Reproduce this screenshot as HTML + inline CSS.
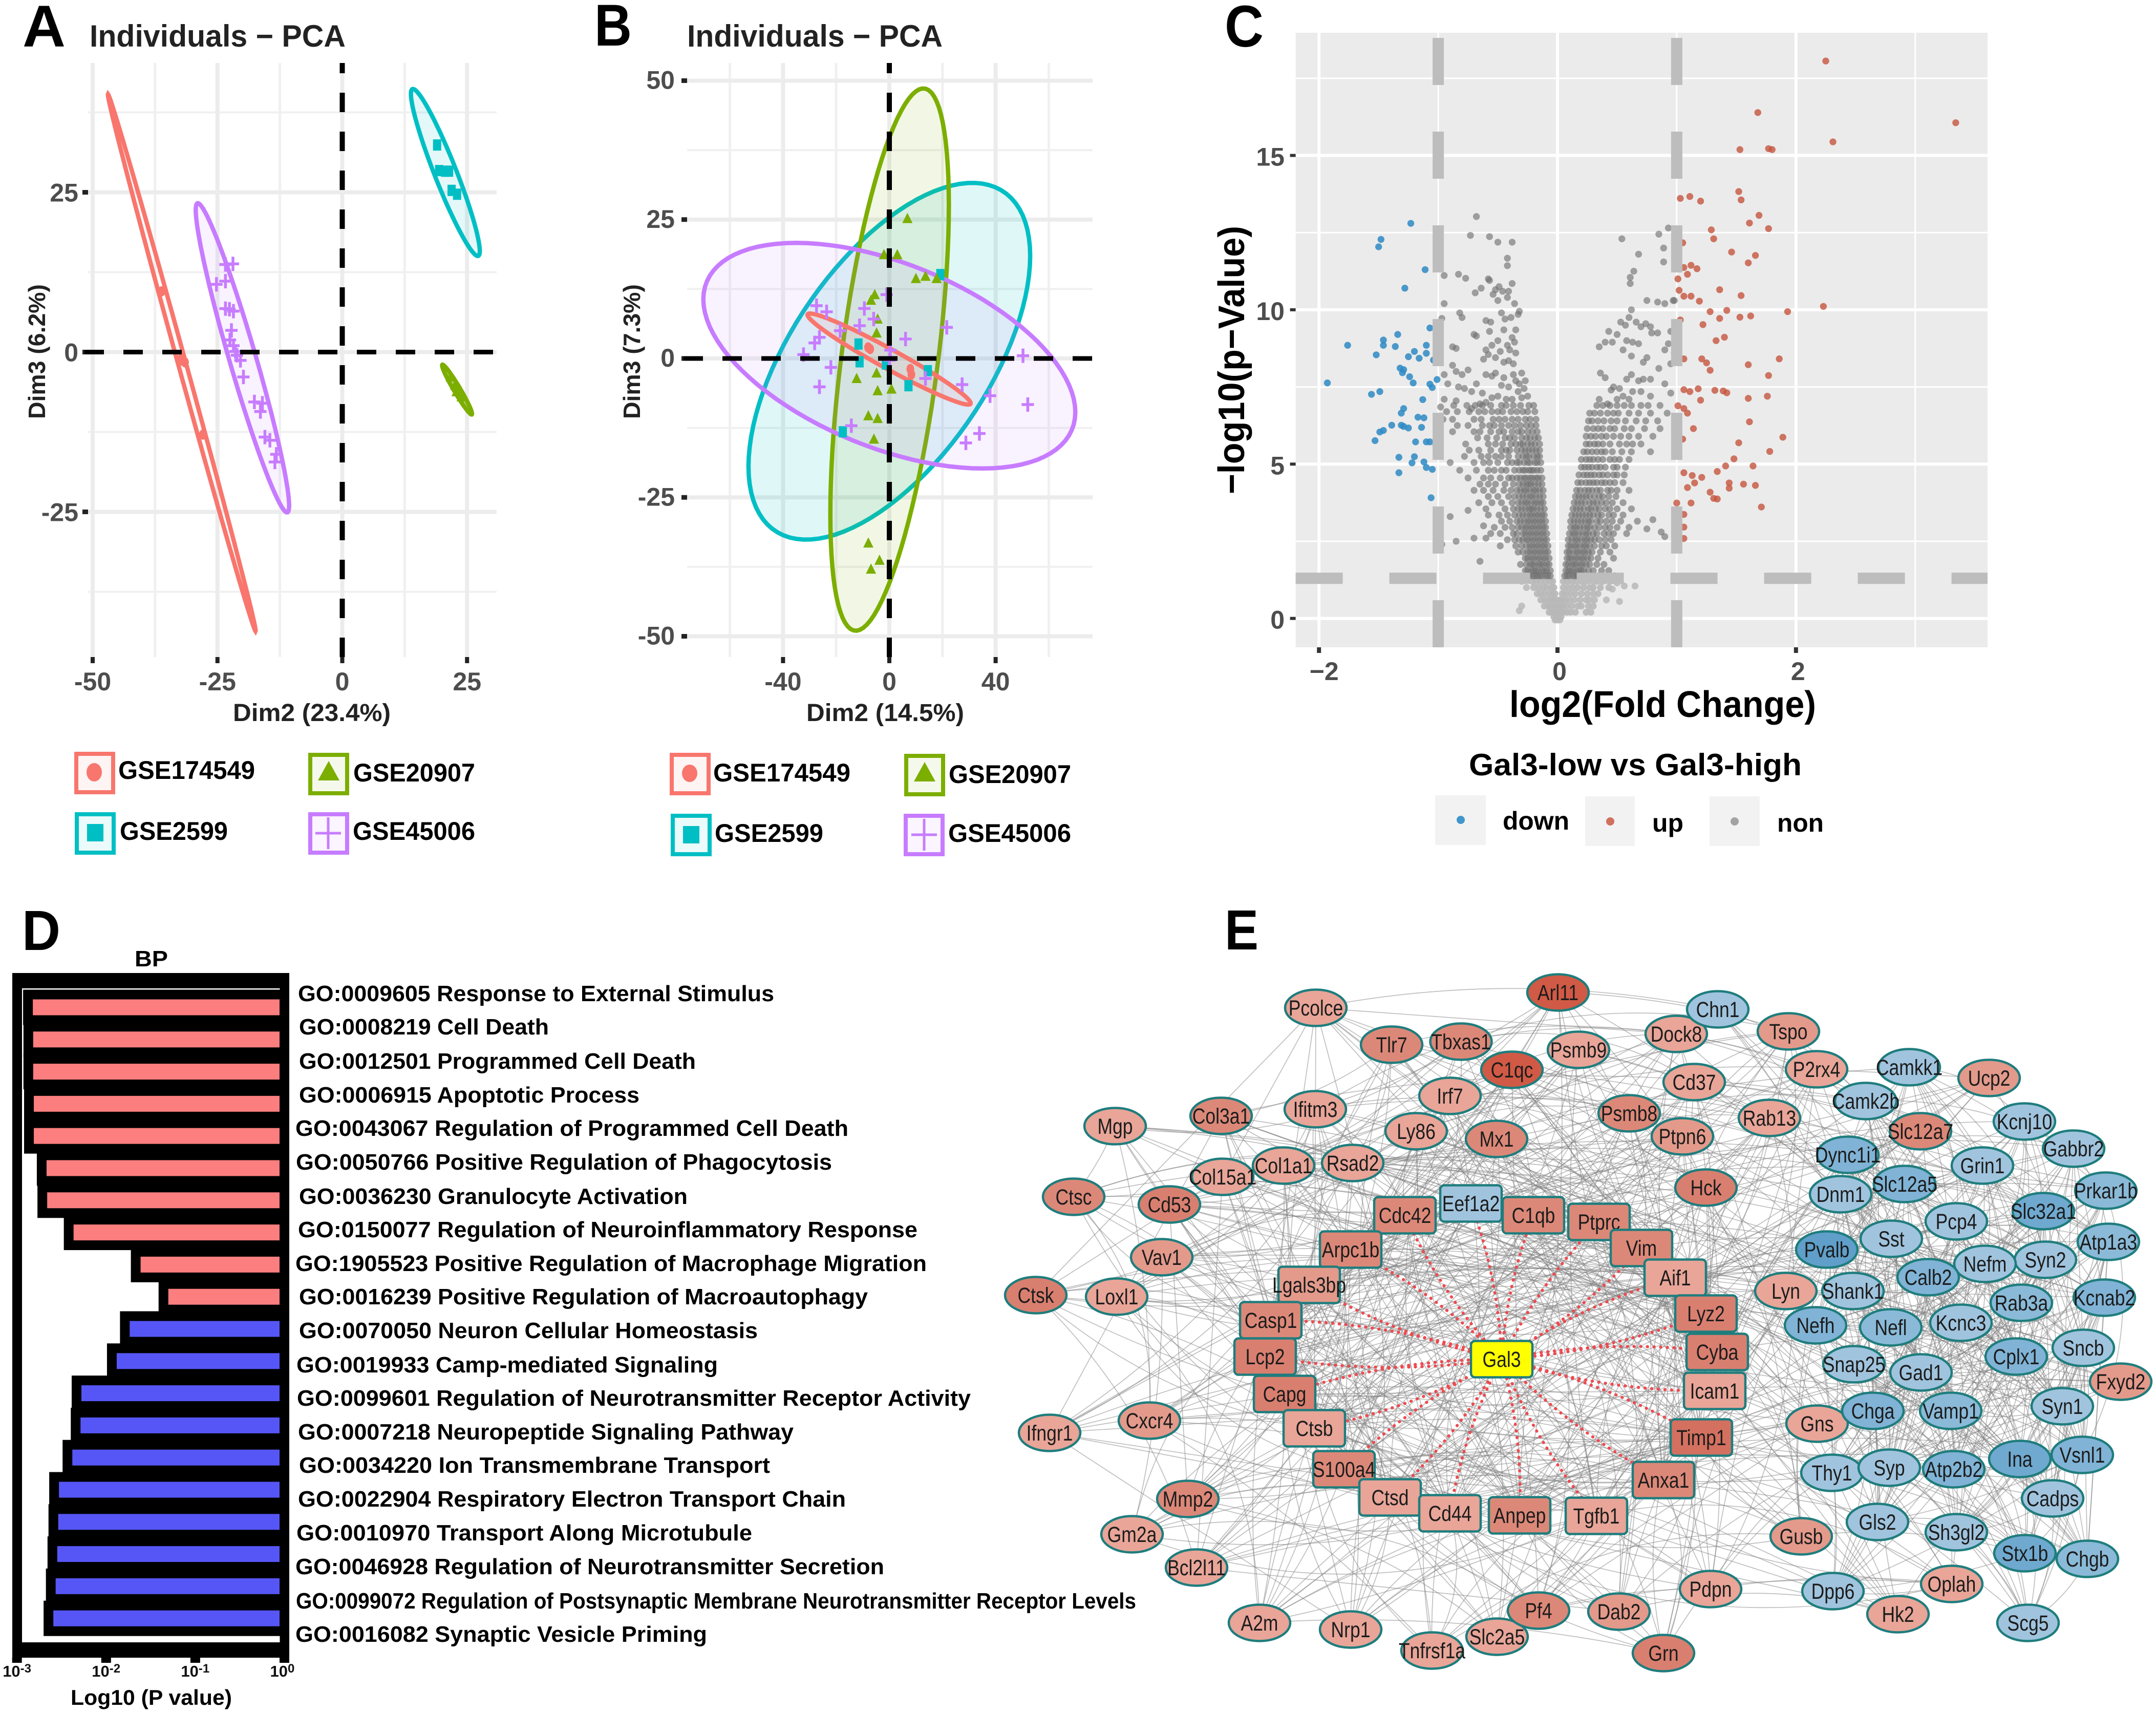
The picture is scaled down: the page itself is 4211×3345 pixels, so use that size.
<!DOCTYPE html>
<html><head><meta charset="utf-8"><title>Figure panels</title>
<style>
html,body{margin:0;padding:0;background:#fff}
svg{display:block;position:absolute;left:0;top:0}
text{font-family:"Liberation Sans",sans-serif}
.b{font-weight:700}
.tl{font-weight:700;fill:#4d4d4d;font-size:50px}
.go{font-weight:700;font-size:44px;fill:#000}
</style></head>
<body>
<svg id="figure" xmlns="http://www.w3.org/2000/svg" width="4211" height="3345" viewBox="0 0 4211 3345">
<rect width="4211" height="3345" fill="#fff"/>
<g id="panelA"></g>
<g id="panelB"></g>
<g id="panelC"></g>
<g id="panelD"></g>
<g id="panelE"></g>

<!-- Panel letters -->
<text class="b" x="44" y="91" font-size="115" textLength="84" lengthAdjust="spacingAndGlyphs">A</text>
<text class="b" x="1161" y="89" font-size="115" textLength="73" lengthAdjust="spacingAndGlyphs">B</text>
<text class="b" x="2392" y="91" font-size="115" textLength="76" lengthAdjust="spacingAndGlyphs">C</text>
<text class="b" x="43" y="1855" font-size="110" textLength="75" lengthAdjust="spacingAndGlyphs">D</text>
<text class="b" x="2392" y="1854" font-size="110" textLength="66" lengthAdjust="spacingAndGlyphs">E</text>

<!-- Panel A text -->
<g fill="#222" class="b">
<text x="175" y="91" font-size="60" textLength="500" lengthAdjust="spacingAndGlyphs">Individuals − PCA</text>
<text x="455" y="1408" font-size="48" textLength="308" lengthAdjust="spacingAndGlyphs">Dim2 (23.4%)</text>
<text transform="translate(88,818) rotate(-90)" font-size="46" textLength="263" lengthAdjust="spacingAndGlyphs">Dim3 (6.2%)</text>
<text x="1342" y="91" font-size="60" textLength="499" lengthAdjust="spacingAndGlyphs">Individuals − PCA</text>
<text x="1575" y="1408" font-size="48" textLength="308" lengthAdjust="spacingAndGlyphs">Dim2 (14.5%)</text>
<text transform="translate(1250,818) rotate(-90)" font-size="46" textLength="263" lengthAdjust="spacingAndGlyphs">Dim3 (7.3%)</text>
</g>

<!-- Legend A -->
<g>
<rect x="149" y="1472" width="72" height="75" fill="#f8766d" fill-opacity=".08" stroke="#f8766d" stroke-width="8"/>
<ellipse cx="184" cy="1508" rx="15" ry="18" fill="#f8766d"/>
<text class="b" x="231" y="1521" font-size="50" textLength="267" lengthAdjust="spacingAndGlyphs">GSE174549</text>
<rect x="606" y="1474" width="72" height="75" fill="#7cae00" fill-opacity=".08" stroke="#7cae00" stroke-width="8"/>
<polygon points="621,1524 663,1524 642,1486" fill="#7cae00"/>
<text class="b" x="690" y="1526" font-size="50" textLength="238" lengthAdjust="spacingAndGlyphs">GSE20907</text>
<rect x="150" y="1590" width="72" height="75" fill="#00bfc4" fill-opacity=".08" stroke="#00bfc4" stroke-width="8"/>
<rect x="170" y="1609" width="32" height="34" fill="#00bfc4"/>
<text class="b" x="234" y="1640" font-size="50" textLength="211" lengthAdjust="spacingAndGlyphs">GSE2599</text>
<rect x="606" y="1590" width="72" height="75" fill="#c77cff" fill-opacity=".08" stroke="#c77cff" stroke-width="8"/>
<path d="M616 1627H666M641 1596V1658" stroke="#c77cff" stroke-width="5" fill="none"/>
<text class="b" x="689" y="1640" font-size="50" textLength="239" lengthAdjust="spacingAndGlyphs">GSE45006</text>
</g>

<!-- Legend B -->
<g>
<rect x="1312" y="1474" width="72" height="75" fill="#f8766d" fill-opacity=".08" stroke="#f8766d" stroke-width="8"/>
<ellipse cx="1347" cy="1510" rx="15" ry="17" fill="#f8766d"/>
<text class="b" x="1393" y="1526" font-size="50" textLength="268" lengthAdjust="spacingAndGlyphs">GSE174549</text>
<rect x="1770" y="1476" width="72" height="75" fill="#7cae00" fill-opacity=".08" stroke="#7cae00" stroke-width="8"/>
<polygon points="1785,1526 1827,1526 1806,1488" fill="#7cae00"/>
<text class="b" x="1853" y="1529" font-size="50" textLength="239" lengthAdjust="spacingAndGlyphs">GSE20907</text>
<rect x="1314" y="1593" width="72" height="75" fill="#00bfc4" fill-opacity=".08" stroke="#00bfc4" stroke-width="8"/>
<rect x="1334" y="1613" width="32" height="34" fill="#00bfc4"/>
<text class="b" x="1396" y="1644" font-size="50" textLength="212" lengthAdjust="spacingAndGlyphs">GSE2599</text>
<rect x="1769" y="1593" width="72" height="75" fill="#c77cff" fill-opacity=".08" stroke="#c77cff" stroke-width="8"/>
<path d="M1780 1630H1830M1805 1599V1661" stroke="#c77cff" stroke-width="5" fill="none"/>
<text class="b" x="1852" y="1644" font-size="50" textLength="240" lengthAdjust="spacingAndGlyphs">GSE45006</text>
</g>

<!-- Panel C text and legend -->
<text class="b" x="2948" y="1400" font-size="72" textLength="599" lengthAdjust="spacingAndGlyphs">log2(Fold Change)</text>
<text class="b" transform="translate(2430,965) rotate(-90)" font-size="72" textLength="524" lengthAdjust="spacingAndGlyphs">−log10(p−Value)</text>
<text class="b" x="2869" y="1514" font-size="60" textLength="650" lengthAdjust="spacingAndGlyphs">Gal3-low vs Gal3-high</text>
<g>
<rect x="2803" y="1553" width="99" height="97" fill="#f2f2f2"/>
<circle cx="2853" cy="1601" r="8" fill="#3f97cb"/>
<text class="b" x="2935" y="1620" font-size="50" textLength="130" lengthAdjust="spacingAndGlyphs">down</text>
<rect x="3096" y="1555" width="97" height="97" fill="#f2f2f2"/>
<circle cx="3145" cy="1604" r="8" fill="#d0705e"/>
<text class="b" x="3227" y="1624" font-size="50" textLength="61" lengthAdjust="spacingAndGlyphs">up</text>
<rect x="3339" y="1555" width="98" height="97" fill="#f2f2f2"/>
<circle cx="3388" cy="1604" r="8" fill="#a3a3a3"/>
<text class="b" x="3471" y="1624" font-size="50" textLength="91" lengthAdjust="spacingAndGlyphs">non</text>
</g>

<!-- Panel D labels -->
<g>
<text class="go" x="582" y="1955" textLength="930" lengthAdjust="spacingAndGlyphs">GO:0009605 Response to External Stimulus</text>
<text class="go" x="584" y="2020" textLength="488" lengthAdjust="spacingAndGlyphs">GO:0008219 Cell Death</text>
<text class="go" x="584" y="2087" textLength="775" lengthAdjust="spacingAndGlyphs">GO:0012501 Programmed Cell Death</text>
<text class="go" x="584" y="2153" textLength="665" lengthAdjust="spacingAndGlyphs">GO:0006915 Apoptotic Process</text>
<text class="go" x="577" y="2218" textLength="1080" lengthAdjust="spacingAndGlyphs">GO:0043067 Regulation of Programmed Cell Death</text>
<text class="go" x="578" y="2284" textLength="1047" lengthAdjust="spacingAndGlyphs">GO:0050766 Positive Regulation of Phagocytosis</text>
<text class="go" x="584" y="2351" textLength="759" lengthAdjust="spacingAndGlyphs">GO:0036230 Granulocyte Activation</text>
<text class="go" x="582" y="2416" textLength="1210" lengthAdjust="spacingAndGlyphs">GO:0150077 Regulation of Neuroinflammatory Response</text>
<text class="go" x="577" y="2482" textLength="1233" lengthAdjust="spacingAndGlyphs">GO:1905523 Positive Regulation of Macrophage Migration</text>
<text class="go" x="584" y="2547" textLength="1111" lengthAdjust="spacingAndGlyphs">GO:0016239 Positive Regulation of Macroautophagy</text>
<text class="go" x="584" y="2613" textLength="896" lengthAdjust="spacingAndGlyphs">GO:0070050 Neuron Cellular Homeostasis</text>
<text class="go" x="579" y="2680" textLength="823" lengthAdjust="spacingAndGlyphs">GO:0019933 Camp-mediated Signaling</text>
<text class="go" x="580" y="2745" textLength="1316" lengthAdjust="spacingAndGlyphs">GO:0099601 Regulation of Neurotransmitter Receptor Activity</text>
<text class="go" x="582" y="2811" textLength="968" lengthAdjust="spacingAndGlyphs">GO:0007218 Neuropeptide Signaling Pathway</text>
<text class="go" x="584" y="2876" textLength="920" lengthAdjust="spacingAndGlyphs">GO:0034220 Ion Transmembrane Transport</text>
<text class="go" x="582" y="2942" textLength="1070" lengthAdjust="spacingAndGlyphs">GO:0022904 Respiratory Electron Transport Chain</text>
<text class="go" x="579" y="3008" textLength="890" lengthAdjust="spacingAndGlyphs">GO:0010970 Transport Along Microtubule</text>
<text class="go" x="577" y="3074" textLength="1150" lengthAdjust="spacingAndGlyphs">GO:0046928 Regulation of Neurotransmitter Secretion</text>
<text class="go" x="578" y="3141" textLength="1641" lengthAdjust="spacingAndGlyphs">GO:0099072 Regulation of Postsynaptic Membrane Neurotransmitter Receptor Levels</text>
<text class="go" x="577" y="3206" textLength="804" lengthAdjust="spacingAndGlyphs">GO:0016082 Synaptic Vesicle Priming</text>
</g>
<text class="b" x="263" y="1887" font-size="44" textLength="65" lengthAdjust="spacingAndGlyphs">BP</text>
<text class="b" x="138" y="3329" font-size="42" textLength="315" lengthAdjust="spacingAndGlyphs">Log10 (P value)</text>

<script>
<![CDATA[
// ---------- Panel A data (data units) ----------
const aXMajor=[-50,-25,0,25];
const aXMinor=[-37.5,-12.5,12.5];
const aYMajor=[25,0,-25];
const aYMinor=[37.5,12.5,-12.5,-37.5];
const aXLabels=["-50","-25","0","25"];
const aYLabels=["25","0","-25"];
// ellipse: centre x, centre y, sd x, sd y, correlation
const aEllipseGse174549=[-32.15,-1.66,14.8,42,-0.9985];
const aEllipseGse45006=[-20,-0.9,9.35,24.2,-0.955];
const aEllipseGse2599=[20.65,28.1,6.9,13.07,-0.94];
const aEllipseGse20907=[23,-5.87,3.0,3.9,-0.97];
const aPointsGse174549=[[-36.2,9.5],[-31.9,-1.4],[-27.9,-12.9],[-32.3,-1],[-31.5,-1.6]];
const aPointsGse45006=[[-23.4,13.7],[-21.9,13.8],[-25.2,10.6],[-23.4,11.1],[-23.4,6.8],[-21.8,6.4],[-22.6,6.7],[-22.2,3.4],[-22.5,1.9],[-21.8,1],[-21.4,0.1],[-21.1,-0.5],[-20.4,-1.3],[-19.8,-3.9],[-17.6,-7.8],[-16,-8],[-16.4,-9.3],[-15.5,-13.3],[-14.5,-13.8],[-13.2,-16],[-13.5,-17.2]];
const aPointsGse2599=[[19,32.4],[19.4,28.4],[20.6,28.3],[21.4,28.3],[21.9,25.3],[23,24.7]];
const aPointsGse20907=[[21.7,-3.9],[22.6,-5.2],[23.9,-7],[22.9,-6.2]];

// ---------- Panel B data ----------
const bXMajor=[-40,0,40];
const bXMinor=[-60,-20,20,60];
const bYMajor=[50,25,0,-25,-50];
const bYMinor=[37.5,12.5,-12.5,-37.5];
const bXLabels=["-40","0","40"];
const bYLabels=["50","25","0","-25","-50"];
const bEllipseGse2599=[0,-0.5,53,32.1,0.59];
const bEllipseGse20907=[0.1,-0.2,22.3,48.8,0.57];
const bEllipseGse45006=[0,0.5,70,20.3,-0.5];
const bEllipseGse174549=[-0.1,-0.1,30.7,8.2,-0.97];
const bPointsGse45006=[[-27.4,9.5],[-23.6,8.4],[-18.5,5],[-11.2,5.9],[-9.4,9],[-5.9,7.1],[-1,11.5],[6.1,3.5],[21.6,5.6],[50.3,0.5],[52.1,-8.3],[37.9,-6.7],[33.9,-13.5],[28.8,-15.2],[27.4,-4.7],[13.6,-3.6],[-14.3,-12.1],[-26.3,-5.1],[-22,-1.6],[-32.3,0.7],[-28.1,2.8],[-26.3,3.8],[0.4,1.5],[0.1,-0.3]];
const bPointsGse20907=[[6.8,25.2],[3,18.7],[-2,18.7],[10,14.4],[13.6,14.8],[17.8,14.4],[-5.5,11.5],[-6.9,10.5],[-4.4,7.1],[-4.8,4.6],[-12.3,-3.6],[-4.8,-2.6],[-4.4,-5.8],[0.8,-5.5],[-7.9,-10.3],[-4.4,-10.8],[-5.8,-14.5],[-7.9,-33.2],[-3.7,-36.3],[-6.9,-37.9]];
const bPointsGse2599=[[-11.6,2.6],[-11.2,-0.6],[-1.3,-1],[7.2,-4.9],[14.5,-2.2],[19.2,15.1],[-17.5,-13.2]];
const bPointsGse174549=[[-8,2],[-7.2,1.7],[7.9,-1.9],[8.3,-2.9]];

// ---------- Panel C data ----------
const cXMajor=[-2,0,2];
const cXMinor=[-1,1,3];
const cYMajor=[0,5,10,15];
const cYMinor=[2.5,7.5,12.5,17.5];
const cXLabels=["−2","0","2"];
const cYLabels=["0","5","10","15"];
const fcThresholds=[-1,1];
const pThreshold=[1.3];
const upPoints=[[2.25,18.06],[3.34,16.06],[1.68,16.39],[2.31,15.44],[1.53,15.19],[1.77,15.22],[1.8,15.19],[1.52,13.83],[1.54,13.56],[1.03,13.61],[1.11,13.67],[1.2,13.52],[1.69,13.06],[1.61,12.81],[1.77,12.63],[1.29,12.59],[1.31,12.3],[1.05,12.17],[1.46,11.87],[1.66,11.76],[1.6,11.52],[1.06,11.37],[1.12,11.44],[1.17,11.33],[1.09,11.15],[1.01,11],[1.36,10.65],[1.54,10.46],[1.02,10.63],[1.06,10.44],[1.12,10.44],[1.19,10.28],[2.23,10.11],[1.93,9.94],[1.28,9.94],[1.42,9.98],[1.36,9.72],[1.53,9.76],[1.62,9.8],[1.03,9.67],[1.22,9.52],[1.4,9.11],[1.33,9],[1.86,8.41],[1.6,8.22],[1.77,7.87],[1.06,8.41],[1.21,8.41],[1.25,8.28],[1.28,8.04],[1.06,7.41],[1.11,7.35],[1.18,7.44],[1.32,7.39],[1.39,7.37],[1.42,7.31],[1.6,7.13],[1.76,7.2],[1.2,7.07],[1.01,6.89],[1.06,6.8],[1.09,6.65],[1.61,6.37],[1.14,6.15],[1.89,5.87],[1.05,5.81],[1.52,5.69],[1.78,5.41],[1.48,5.17],[1.41,4.94],[1.64,4.94],[1.34,4.76],[1.06,4.72],[1.13,4.63],[1.21,4.57],[1.15,4.39],[1.09,4.24],[1.44,4.39],[1.44,4.22],[1.56,4.35],[1.66,4.31],[1.28,4.09],[1.31,3.89],[1.34,3.87],[1.12,3.74],[1,3.74],[1.71,3.61],[1.06,3.37],[1.06,2.96],[1.06,2.59]];
const downPoints=[[-1.23,12.8],[-1.48,12.28],[-1.5,12.04],[-1.11,11.3],[-1.28,10.7],[-1.07,9.41],[-1.34,9.2],[-1.46,9.02],[-1.46,8.85],[-1.76,8.85],[-1.36,8.81],[-1.1,8.85],[-1.52,8.54],[-1.2,8.65],[-1.1,8.59],[-1.25,8.48],[-1.16,8.43],[-1.04,8.37],[-1.32,8.11],[-1.29,8.06],[-1.3,7.96],[-1.24,7.83],[-1.21,7.63],[-1.93,7.63],[-1.01,7.74],[-1.07,7.59],[-1.05,7.48],[-1.56,7.26],[-1.49,7.35],[-1.13,7.09],[-1.29,6.8],[-1.31,6.65],[-1.17,6.52],[-1.12,6.5],[-1.31,6.26],[-1.29,6.22],[-1.25,6.17],[-1.39,6.26],[-1.46,6.09],[-1.49,6.04],[-1.14,6.19],[-1.53,5.76],[-1.19,5.72],[-1.1,5.72],[-1.07,5.72],[-1.33,5.22],[-1.2,5.24],[-1.22,5.04],[-1.12,5.07],[-1.1,4.89],[-1.05,4.83],[-1.33,4.72],[-1.06,3.91],[-1.02,5.6]];
const nonLeftUpper=[[-.68,13.02],[-.73,12.41],[-.57,12.37],[-.5,12.19],[-.38,12.19],[-.42,11.67],[-.42,11.43],[-.95,11.11],[-.83,11.15],[-.77,11.02],[-.58,11],[-.57,10.95],[-.64,10.7],[-.52,10.65],[-.38,10.85],[-.42,10.4],[-.69,10.55],[-.54,10.5],[-.36,10.2],[-.32,9.95],[-.33,9.85],[-.95,10.2],[-.97,9.72],[-.82,9.9],[-.8,9.75],[-.6,9.65],[-.56,9.6],[-.45,9.35],[-.38,9.1],[-.7,9.2],[-.68,9.15],[-.57,9.3],[-.88,8.8],[-.85,8.75],[-.6,8.7],[-.55,8.85],[-.5,9],[-.42,8.85],[-.4,8.7],[-.36,8.95],[-.35,8.6],[-.62,8.4],[-.58,8.55],[-.52,8.45],[-.49,10.75],[-.46,10.6],[-.41,10.6],[-.5,10.3],[-.47,9.9],[-.44,9.7],[-.39,9.75],[-.35,9.35],[-.48,8.65],[-.45,8.3],[-.41,8.35],[-.37,8.25]];
const nonLeftMiddle=[[-.95,7.9],[-.88,8.2],[-.85,8],[-.8,7.9],[-.75,8.05],[-.92,7.6],[-.83,7.5],[-.78,7.45],[-.72,7.35],[-.68,7.6],[-.6,7.9],[-.55,7.85],[-.52,7.95],[-.45,7.8],[-.35,7.7],[-.32,7.6],[-.28,7.45],[-.33,7.35],[-.25,7.2],[-.38,7.1],[-.5,7.2],[-.55,7.15],[-.6,7],[-.65,6.95],[-.72,6.8],[-.85,7.05],[-.95,7.1],[-.98,6.85],[-.41,7.5],[-.37,7.9],[-.3,7.95],[-.27,7.7],[-.47,7.55],[-.63,7.3],[-.43,7.1],[-.3,7.15],[-.9,3.3],[-.75,3.5],[-.85,2.5],[-.62,3],[-.7,2.6],[-.6,2.6],[-.65,1.85],[-.97,2.4]];
// rows: first value is -log10(p), the rest are log2FC
const nonLeftCoreRows=[[6.9,-.2,-.24,-.31,-.37,-.43,-.47,-.56,-.63,-.69,-.76,-.87],[6.7,-.19,-.25,-.29,-.34,-.39,-.46,-.5,-.55,-.61,-.66,-.74,-.84,-.93],[6.45,-.18,-.23,-.27,-.33,-.38,-.44,-.49,-.54,-.64,-.7,-.88,-.96],[6.25,-.18,-.22,-.26,-.31,-.36,-.41,-.47,-.53,-.57,-.63,-.75,-.84],[6.05,-.17,-.21,-.25,-.3,-.33,-.38,-.45,-.49,-.56,-.65,-.7,-.88],[5.85,-.16,-.19,-.23,-.26,-.3,-.36,-.4,-.44,-.51,-.59,-.67],[5.65,-.15,-.19,-.22,-.25,-.29,-.31,-.35,-.39,-.46,-.52,-.58,-.77],[5.45,-.15,-.18,-.21,-.24,-.27,-.3,-.34,-.4,-.43,-.47,-.56,-.66,-.74],[5.25,-.15,-.17,-.2,-.24,-.26,-.29,-.33,-.41,-.47,-.52,-.58,-.64,-.78],[5.05,-.14,-.17,-.19,-.23,-.25,-.28,-.32,-.34,-.38,-.42,-.5,-.57,-.62,-.7,-.9],[4.8,-.14,-.17,-.2,-.22,-.24,-.27,-.29,-.32,-.36,-.43,-.47,-.53,-.58,-.68,-.82],[4.55,-.13,-.16,-.18,-.21,-.23,-.26,-.28,-.31,-.34,-.38,-.41,-.48,-.56,-.62,-.75],[4.35,-.13,-.16,-.19,-.22,-.24,-.26,-.29,-.32,-.37,-.44,-.52,-.58,-.65],[4.15,-.12,-.15,-.18,-.2,-.23,-.26,-.28,-.31,-.34,-.39,-.45,-.54,-.62,-.7],[3.95,-.12,-.15,-.18,-.21,-.23,-.26,-.29,-.32,-.36,-.41,-.5,-.58],[3.75,-.12,-.14,-.17,-.19,-.22,-.25,-.27,-.3,-.33,-.38,-.47,-.55,-.66],[3.55,-.11,-.14,-.17,-.2,-.22,-.24,-.27,-.3,-.33,-.37,-.44,-.6],[3.35,-.11,-.13,-.16,-.18,-.21,-.23,-.26,-.29,-.32,-.36,-.42,-.49,-.58],[3.15,-.1,-.13,-.15,-.18,-.2,-.23,-.25,-.28,-.31,-.34,-.4,-.47],[2.95,-.1,-.12,-.15,-.17,-.2,-.22,-.25,-.27,-.3,-.33,-.38,-.44,-.53],[2.75,-.09,-.12,-.14,-.17,-.19,-.22,-.24,-.27,-.29,-.34,-.37,-.48,-.56],[2.55,-.09,-.11,-.14,-.16,-.19,-.21,-.24,-.26,-.29,-.32,-.36,-.42],[2.35,-.08,-.11,-.13,-.16,-.18,-.21,-.23,-.26,-.3,-.35,-.48],[2.15,-.08,-.1,-.13,-.15,-.18,-.2,-.23,-.25,-.29,-.33],[1.95,-.07,-.1,-.12,-.15,-.17,-.2,-.22,-.25,-.27],[1.75,-.07,-.09,-.12,-.14,-.16,-.19,-.21,-.23,-.26,-.31],[1.55,-.06,-.09,-.11,-.13,-.16,-.18,-.2,-.22,-.25,-.27],[1.38,-.06,-.08,-.1,-.13,-.15,-.17,-.19,-.21,-.24]];
const nonRightUpper=[[.54,12.3],[.68,11.8],[.64,11.25],[.61,11.05],[.61,10.85],[.85,12.45],[.89,12],[.93,12.65],[.89,11.55],[.75,10.3],[.84,10.25],[.9,10.2],[.98,10.3],[.97,10.3],[.62,10],[.6,9.75],[.53,9.6],[.57,9.5],[.66,9.6],[.7,9.45],[.74,9.55],[.78,9.45],[.43,9.3],[.5,9.2],[.46,8.95],[.58,9],[.63,8.95],[.68,8.9],[.79,9.25],[.84,9.25],[.95,9.3],[.93,8.9],[.98,8.6],[.9,8.7],[.35,8.8],[.4,8.95],[.55,8.7],[.62,8.5],[.72,8.3],[.75,8.45],[.85,8.1],[.95,8.25]];
const nonRightMiddle=[[.36,7.95],[.4,7.8],[.47,7.5],[.52,7.45],[.45,7.4],[.58,7.75],[.62,7.9],[.68,7.7],[.72,7.75],[.78,7.75],[.9,7.6],[.35,7.1],[.42,6.95],[.5,7.1],[.55,7.2],[.6,7.1],[.63,7.35],[.7,7.35],[.78,7.2],[.95,7.3],[.8,3.2],[.87,2.8],[.9,2.65],[.75,2.9]];
const nonRightCoreRows=[[6.9,.33,.38,.44,.5,.56,.62,.7,.76,.86],[6.65,.27,.31,.36,.42,.47,.51,.6,.68,.78,.92],[6.4,.26,.29,.34,.39,.45,.5,.57,.66,.74,.84],[6.15,.25,.3,.34,.38,.44,.48,.56,.62,.73,.86],[5.9,.24,.28,.32,.37,.41,.47,.53,.6,.68,.8],[5.65,.24,.27,.31,.34,.38,.44,.52,.58,.63,.7],[5.4,.22,.25,.29,.33,.37,.4,.46,.54,.62,.78],[5.15,.2,.24,.27,.3,.34,.38,.44,.48,.52,.6],[4.9,.2,.23,.26,.29,.33,.36,.4,.47,.5,.57],[4.65,.18,.22,.25,.28,.31,.35,.38,.42,.47,.5,.56],[4.4,.17,.2,.24,.27,.3,.33,.37,.4,.44,.48,.55],[4.15,.16,.19,.23,.26,.29,.33,.36,.42,.45,.5,.6],[3.95,.15,.18,.21,.24,.27,.31,.35,.38,.43,.49],[3.75,.14,.17,.2,.23,.27,.3,.33,.37,.41,.46,.55],[3.55,.13,.16,.19,.22,.26,.28,.32,.35,.4,.44,.5,.62],[3.35,.12,.15,.18,.21,.24,.27,.3,.34,.37,.43,.47,.55],[3.15,.11,.14,.17,.2,.23,.26,.28,.33,.36,.41,.46,.53,.67],[2.95,.11,.14,.16,.19,.22,.25,.27,.31,.35,.4,.44,.5,.6],[2.75,.1,.13,.15,.18,.21,.24,.26,.3,.33,.39,.43,.47,.58],[2.55,.09,.12,.15,.17,.2,.23,.25,.28,.31,.35,.4,.45],[2.35,.09,.11,.14,.16,.19,.22,.24,.27,.31,.37,.41,.48],[2.15,.08,.1,.13,.16,.18,.21,.23,.26,.29,.36,.44],[1.95,.08,.1,.12,.15,.17,.2,.22,.25,.28,.34,.47],[1.75,.07,.09,.12,.14,.16,.19,.21,.24,.27,.33,.39],[1.55,.07,.09,.11,.13,.16,.18,.2,.22,.26,.3,.37,.43],[1.38,.06,.08,.1,.13,.15,.17,.19,.21,.25,.29,.34,.41,.48]];
const nonsigRows=[[1.2,-.21,-.18,-.14,-.1,-.06,-.04,.05,.08,.12,.16,.2,.24,.3,.33,.38,.44],[1,-.2,-.16,-.12,-.09,-.05,-.03,.05,.09,.13,.17,.22,.27,.3,.36,.43],[.8,-.17,-.14,-.11,-.07,-.04,-.02,.04,.07,.11,.15,.2,.25,.3,.34],[.6,-.14,-.11,-.08,-.05,-.03,-.01,.02,.04,.07,.1,.14,.19,.24,.27,.31],[.4,-.11,-.08,-.06,-.03,-.01,.01,.03,.05,.08,.12,.17,.2,.26,.3],[.2,-.07,-.05,-.03,-.01,.01,.03,.05,.08,.11,.15,.24,.28],[.05,-.03,-.01,.01,.03],[-.05,-.02,0,.02]];
const nonsigPoints=[[-.3,.4],[-.32,.25],[-.26,1],[-.3,1.2],[.5,1.15],[.56,1.05],[.46,.95],[.41,.6],[.52,.55],[.65,1.05]];

// ---------- Panel D data ----------
const goLogP=[-2.877,-2.873,-2.873,-2.866,-2.866,-2.723,-2.716,-2.42,-1.668,-1.357,-1.79,-1.936,-2.332,-2.342,-2.434,-2.584,-2.592,-2.603,-2.621,-2.647];
const goTicks=[-3,-2,-1,0];
const goTickExponents=["-3","-2","-1","0"];
const goUpCount=[10];

// ---------- Panel E data ----------
const SAL="#e8a598",SA2="#e39a8b",SA3="#dc8878",SA4="#d97f70",SA5="#d4705f",SA6="#d05a45",BL1="#a0c4de",BL2="#8abad8",BL3="#80b3d6",BL4="#6fa9cf",BL5="#5f9fca";
// name, x, y, colour
const outerNodes=[["Pcolce",2570,1968,SAL],["Arl11",3043,1938,SA6],["Tlr7",2718,2040,SA3],["Tbxas1",2853.5,2034,SA3],["C1qc",2953,2089,SA6],["Psmb9",3083,2050,SAL],["Irf7",2832,2140,SAL],["Ifitm3",2569,2166,SAL],["Col3a1",2385,2179,SA3],["Mgp",2178,2199,SAL],["Ly86",2766,2209,SAL],["Mx1",2923,2224,SA3],["Col15a1",2388,2298,SAL],["Col1a1",2507,2276,SAL],["Rsad2",2642,2271,SAL],["Ctsc",2097,2337,SA3],["Cd53",2284,2352,SA4],["Vav1",2269,2455,SA2],["Ctsk",2023,2529,SA4],["Loxl1",2181,2532,SAL],["Ifngr1",2050,2798,SAL],["Cxcr4",2245,2774,SA2],["Mmp2",2320,2927,SA3],["Gm2a",2211,2996,SAL],["Bcl2l11",2337,3061,SAL],["A2m",2460,3169,SAL],["Nrp1",2638,3182,SAL],["Tnfrsf1a",2797,3223,SAL],["Slc2a5",2924,3196,SAL],["Pf4",3005,3145,SA3],["Dock8",3274,2019,SAL],["Tspo",3493,2014,SA2],["P2rx4",3548,2088,SAL],["Cd37",3309,2113,SAL],["Psmb8",3182,2174,SA3],["Rab13",3456,2183,SAL],["Ptpn6",3286,2219,SA2],["Hck",3332,2319,SA4],["Lyn",3488,2521,SAL],["Gusb",3518,3000,SA2],["Gns",3549,2780,SAL],["Pdpn",3341,3103,SAL],["Dab2",3162,3147,SA2],["Grn",3249,3228,SA4],["Ucp2",3885,2105,SA2],["Slc12a7",3751,2209,SA3],["Fxyd2",4142,2698,SA2],["Oplah",3812,3093,SAL],["Hk2",3707,3152,SAL]];
const hubNodes=[["Cdc42",2744,2373,SA3],["Eef1a2",2873,2350,BL1],["C1qb",2995,2373,SA3],["Arpc1b",2638,2440,SA3],["Lgals3bp",2557,2509,SA2],["Casp1",2482,2578,SA3],["Lcp2",2471,2649,SA4],["Capg",2509,2722,SA4],["Ctsb",2567,2789,SAL],["S100a4",2625,2869,SA3],["Ctsd",2715,2924,SAL],["Cd44",2832,2955,SAL],["Anpep",2968,2959,SA3],["Tgfb1",3118,2960,SAL],["Ptprc",3123,2386,SA3],["Vim",3206,2437,SA3],["Aif1",3272,2495,SAL],["Lyz2",3332,2565,SA4],["Cyba",3354,2640,SA4],["Icam1",3349,2716,SAL],["Timp1",3323,2807,SA5],["Anxa1",3249,2890,SA3]];
const centerNode=["Gal3",2933,2654,"#ffff00"];
const blueNodes=[["Chn1",3355,1971,BL1],["Camkk1",3729,2084,BL1],["Camk2b",3644,2150,BL1],["Kcnj10",3954,2190,BL1],["Dync1i1",3609,2255,BL3],["Grin1",3872,2276,BL1],["Gabbr2",4050,2243,BL1],["Dnm1",3595,2332,BL1],["Slc12a5",3720,2312,BL3],["Prkar1b",4113,2325,BL2],["Slc32a1",3991,2365,BL4],["Pcp4",3821,2385,BL1],["Sst",3694,2419,BL1],["Pvalb",3568,2440,BL5],["Atp1a3",4118,2425,BL2],["Syn2",3995,2460,BL1],["Nefm",3877,2468,BL1],["Calb2",3766,2494,BL3],["Shank1",3619,2521,BL1],["Rab3a",3948,2544,BL2],["Kcnab2",4110,2534,BL3],["Nefh",3546,2588,BL3],["Nefl",3693,2592,BL2],["Kcnc3",3830,2583,BL1],["Sncb",4069,2632,BL1],["Cplx1",3938,2649,BL3],["Snap25",3621,2664,BL1],["Gad1",3752,2680,BL1],["Syn1",4028,2746,BL1],["Chga",3658,2755,BL3],["Vamp1",3810,2755,BL2],["Vsnl1",4067,2841,BL3],["Ina",3945,2849,BL4],["Thy1",3578,2876,BL1],["Syp",3690,2866,BL1],["Atp2b2",3816,2869,BL3],["Cadps",4009,2926,BL1],["Gls2",3667,2972,BL1],["Sh3gl2",3821,2992,BL1],["Stx1b",3955,3033,BL4],["Chgb",4077,3044,BL2],["Dpp6",3580,3107,BL1],["Scg5",3961,3169,BL1]];

// ---------- helpers ----------
const NS="http://www.w3.org/2000/svg";
function make(parent,tag,attrs){
  const el=document.createElementNS(NS,tag);
  for(const k in attrs){el.setAttribute(k,attrs[k]);}
  parent.appendChild(el);
  return el;
}
function ellipsePath(p,sx,sy){
  const [cx,cy,a,b,r]=p;
  const q=Math.sqrt(1-r*r);
  let d="";
  for(let i=0;i<96;i++){
    const t=i/96*2*Math.PI;
    const vx=cx+a*Math.cos(t);
    const vy=cy+b*(r*Math.cos(t)+q*Math.sin(t));
    d+=(i?"L":"M")+sx(vx).toFixed(1)+" "+sy(vy).toFixed(1);
  }
  return d+"Z";
}
function drawSymbol(g,kind,px,py,color){
  let el;
  if(kind==="circle"){
    el=make(g,"ellipse",{cx:px,cy:py,rx:7.5,ry:10,fill:color});
  }else if(kind==="square"){
    el=make(g,"rect",{x:px-8,y:py-11,width:16,height:22,fill:color});
  }else if(kind==="triangle"){
    el=make(g,"polygon",{points:(px-10)+","+(py+9)+" "+(px+10)+","+(py+9)+" "+px+","+(py-11),fill:color});
  }else{
    el=make(g,"path",{d:"M"+(px-12)+" "+py+"H"+(px+12)+"M"+px+" "+(py-14)+"V"+(py+14),stroke:color,"stroke-width":5.5,fill:"none"});
  }
  
  
}
function drawPca(g,cfg){
  const {sx,sy,left,right,top,bottom,xMajor,xMinor,yMajor,yMinor,xLabels,yLabels,yLabelX,yLabelDy,series}=cfg;
  xMinor.forEach(v=>{
    const el=make(g,"line",{x1:sx(v),x2:sx(v),y1:top,y2:bottom,stroke:"#f0f0f0","stroke-width":5});
    
    
  });
  yMinor.forEach(v=>{
    const el=make(g,"line",{x1:left,x2:right,y1:sy(v),y2:sy(v),stroke:"#f0f0f0","stroke-width":4});
    
    
  });
  xMajor.forEach((v,i)=>{
    const el=make(g,"line",{x1:sx(v),x2:sx(v),y1:top,y2:bottom,stroke:"#ececec","stroke-width":8});
    
    
    const t=make(g,"rect",{x:sx(v)-4,y:bottom,width:8,height:12,fill:"#222"});
    
    
    const lab=make(g,"text",{x:sx(v),y:1348,"text-anchor":"middle","class":"tl"});
    lab.textContent=xLabels[i];
    
    
  });
  yMajor.forEach((v,i)=>{
    const el=make(g,"line",{x1:left,x2:right,y1:sy(v),y2:sy(v),stroke:"#ececec","stroke-width":8});
    
    
    const t=make(g,"rect",{x:left-11,y:sy(v)-4.5,width:11,height:9,fill:"#222"});
    
    
    const lab=make(g,"text",{x:yLabelX,y:sy(v)+yLabelDy,"text-anchor":"end","class":"tl"});
    lab.textContent=yLabels[i];
    
    
  });
  series.forEach(s=>{
    const el=make(g,"path",{d:ellipsePath(s.ellipse,sx,sy),fill:s.color,"fill-opacity":s.fillOpacity,stroke:s.color,"stroke-width":8.5});
    
    
  });
  series.forEach(s=>{
    s.points.forEach(p=>drawSymbol(g,s.kind,sx(p[0]),sy(p[1]),s.color));
  });
  const h=make(g,"line",{x1:left-7,x2:right,y1:sy(0),y2:sy(0),stroke:"#000","stroke-width":9,"stroke-dasharray":"38 38"});
  
  
  const v=make(g,"line",{x1:sx(0),x2:sx(0),y1:bottom,y2:top,stroke:"#000","stroke-width":10,"stroke-dasharray":"38 38"});
  
  
}

const RED="#f8766d",GREEN="#7cae00",CYAN="#00bfc4",PURPLE="#c77cff";

// ---------- draw A ----------
const aX=v=>668.5+9.75*v;
const aY=v=>687.5-12.48*v;
drawPca(document.getElementById("panelA"),{sx:aX,sy:aY,left:172,right:970,top:123,bottom:1283,xMajor:aXMajor,xMinor:aXMinor,yMajor:aYMajor,yMinor:aYMinor,xLabels:aXLabels,yLabels:aYLabels,yLabelX:153,yLabelDy:18,series:[
 {name:"gse174549",color:RED,kind:"circle",ellipse:aEllipseGse174549,points:aPointsGse174549,fillOpacity:.04},
 {name:"gse45006",color:PURPLE,kind:"cross",ellipse:aEllipseGse45006,points:aPointsGse45006,fillOpacity:.1},
 {name:"gse2599",color:CYAN,kind:"square",ellipse:aEllipseGse2599,points:aPointsGse2599,fillOpacity:.1},
 {name:"gse20907",color:GREEN,kind:"triangle",ellipse:aEllipseGse20907,points:aPointsGse20907,fillOpacity:.5}
]});

// ---------- draw B ----------
const bX=v=>1737+5.19*v;
const bY=v=>700-10.85*v;
drawPca(document.getElementById("panelB"),{sx:bX,sy:bY,left:1342,right:2134,top:123,bottom:1283,xMajor:bXMajor,xMinor:bXMinor,yMajor:bYMajor,yMinor:bYMinor,xLabels:bXLabels,yLabels:bYLabels,yLabelX:1318,yLabelDy:16,series:[
 {name:"gse2599",color:CYAN,kind:"square",ellipse:bEllipseGse2599,points:bPointsGse2599,fillOpacity:.12},
 {name:"gse20907",color:GREEN,kind:"triangle",ellipse:bEllipseGse20907,points:bPointsGse20907,fillOpacity:.1},
 {name:"gse45006",color:PURPLE,kind:"cross",ellipse:bEllipseGse45006,points:bPointsGse45006,fillOpacity:.1},
 {name:"gse174549",color:RED,kind:"circle",ellipse:bEllipseGse174549,points:bPointsGse174549,fillOpacity:.1}
]});

// ---------- draw C ----------
const cX=v=>3042+232.9*v;
const cY=v=>1207.6-60.27*v;
(function(){
  const g=document.getElementById("panelC");
  const L=2530.6,R=3882,T=64,B=1264;
  const bg=make(g,"rect",{x:L,y:T,width:R-L,height:B-T,fill:"#ebebeb"});
  
  
  cXMinor.forEach(v=>{
    const el=make(g,"line",{x1:cX(v),x2:cX(v),y1:T,y2:B,stroke:"#fff","stroke-width":3});
    
    
  });
  cYMinor.forEach(v=>{
    const el=make(g,"line",{x1:L,x2:R,y1:cY(v),y2:cY(v),stroke:"#fff","stroke-width":3});
    
    
  });
  cXMajor.forEach((v,i)=>{
    const el=make(g,"line",{x1:cX(v),x2:cX(v),y1:T,y2:B,stroke:"#fff","stroke-width":6});
    
    
    const t=make(g,"rect",{x:cX(v)-4,y:B,width:8,height:11,fill:"#333"});
    
    
    const lab=make(g,"text",{x:cX(v)+(i===0?10:4),y:1328,"text-anchor":"middle","class":"tl","font-size":50});
    lab.textContent=cXLabels[i];
    
    
  });
  cYMajor.forEach((v,i)=>{
    const el=make(g,"line",{x1:L,x2:R,y1:cY(v),y2:cY(v),stroke:"#fff","stroke-width":6});
    
    
    const t=make(g,"rect",{x:L-11,y:cY(v)-3,width:11,height:6,fill:"#333"});
    
    
    const lab=make(g,"text",{x:2509,y:cY(v)+20,"text-anchor":"end","class":"tl"});
    lab.textContent=cYLabels[i];
    
    
  });
  function pt(x,y,fill,op,name){
    const el=make(g,"ellipse",{cx:cX(x),cy:cY(y),rx:6.7,ry:6.7,fill:fill,"fill-opacity":op});
    
    
  }
  nonsigPoints.forEach(p=>pt(p[0],p[1],"#b8b8b8",.85,"point-nonsignificant"));
  nonsigRows.forEach(r=>{
    r.slice(1).forEach(x=>pt(x,r[0],"#b8b8b8",.9,"point-nonsignificant"));
  });
  [nonLeftUpper,nonLeftMiddle,nonRightUpper,nonRightMiddle].forEach(a=>a.forEach(p=>pt(p[0],p[1],"#6e6e6e",.62,"point-non")));
  [nonLeftCoreRows,nonRightCoreRows].forEach(rows=>rows.forEach(r=>{
    r.slice(1).forEach(x=>pt(x,r[0],"#6e6e6e",.62,"point-non"));
  }));
  upPoints.forEach(p=>pt(p[0],p[1],"#c5553f",.8,"point-up"));
  downPoints.forEach(p=>pt(p[0],p[1],"#2e8ac4",.85,"point-down"));
  fcThresholds.forEach(v=>{
    const el=make(g,"line",{x1:cX(v),x2:cX(v),y1:B,y2:T,stroke:"#bdbdbd","stroke-width":22,"stroke-dasharray":"92 91"});
    
    
  });
  pThreshold.forEach(v=>{
    const el=make(g,"line",{x1:L,x2:R,y1:cY(v),y2:cY(v),stroke:"#bdbdbd","stroke-width":22,"stroke-dasharray":"92 91"});
    
    
  });
})();

// ---------- draw D ----------
const dX=v=>555.5+174.1*v;
const dRow=i=>1967+62.8*i;
(function(){
  const g=document.getElementById("panelD");
  goLogP.forEach((v,i)=>{
    const el=make(g,"rect",{x:dX(v),y:dRow(i)-25,width:dX(0)-dX(v),height:50,fill:i<goUpCount[0]?"#fd7e7e":"#5656f6",stroke:"#000","stroke-width":19});
    
    
  });
  const parts=[[24,1900,541,30,"frame-top"],[24,3207,541,30,"frame-bottom"],[24,1900,19,1337,"frame-left"],[546.5,1900,18.5,1337,"frame-right"]];
  parts.forEach(p=>{
    const el=make(g,"rect",{x:p[0],y:p[1],width:p[2],height:p[3],fill:"#000"});
    
    
  });
  goTicks.forEach((v,i)=>{
    const t=make(g,"rect",{x:dX(v)-9.5,y:3237,width:19,height:10,fill:"#000"});
    
    
    const lab=make(g,"text",{x:dX(v)-28,y:3274,"font-size":31,"font-weight":700,fill:"#111"});
    
    
    const base=document.createElementNS(NS,"tspan");
    base.textContent="10";
    lab.appendChild(base);
    const sup=document.createElementNS(NS,"tspan");
    sup.setAttribute("dy","-8");
    sup.setAttribute("font-size","24");
    sup.textContent=goTickExponents[i];
    lab.appendChild(sup);
  });
})();

// ---------- draw E ----------
(function(){
  const g=document.getElementById("panelE");
  const reds=outerNodes.concat(hubNodes);
  const nOuter=outerNodes.length;
  function edge(a,b,sign,curv){
    const dx=b[1]-a[1],dy=b[2]-a[2];
    const mx=(a[1]+b[1])/2-dy*curv*sign,my=(a[2]+b[2])/2+dx*curv*sign;
    const el=make(g,"path",{d:"M"+a[1]+" "+a[2]+"Q"+mx.toFixed(0)+" "+my.toFixed(0)+" "+b[1]+" "+b[2],fill:"none",stroke:"#808080","stroke-width":1.7,"stroke-opacity":.5});
    
    
  }
  for(let i=0;i<reds.length;i++){
    for(let j=i+1;j<reds.length;j++){
      const hub=(i>=nOuter)||(j>=nOuter);
      const d=Math.hypot(reds[i][1]-reds[j][1],reds[i][2]-reds[j][2]);
      const k=(i*31+j*17)%(hub?3:6);
      if(k===0&&(hub||d<1050)){edge(reds[i],reds[j],(i+j)%2?1:-1,(i%4)*0.07);}
    }
  }
  for(let i=0;i<blueNodes.length;i++){
    for(let j=i+1;j<blueNodes.length;j++){
      const d=Math.hypot(blueNodes[i][1]-blueNodes[j][1],blueNodes[i][2]-blueNodes[j][2]);
      if(d<650&&(i*13+j*29)%2===0){edge(blueNodes[i],blueNodes[j],(i+j)%2?1:-1,(j%4)*0.07);}
    }
  }
  for(let i=0;i<reds.length;i++){
    for(let j=0;j<blueNodes.length;j++){
      if((i*7+j*11)%26===0){edge(reds[i],blueNodes[j],(i+j)%2?1:-1,0.1);}
    }
  }
  hubNodes.forEach((n,i)=>{
    const dx=n[1]-centerNode[1],dy=n[2]-centerNode[2];
    const s=i%2?0.08:-0.08;
    const el=make(g,"path",{d:"M"+centerNode[1]+" "+centerNode[2]+"Q"+((centerNode[1]+n[1])/2-dy*s).toFixed(0)+" "+((centerNode[2]+n[2])/2+dx*s).toFixed(0)+" "+n[1]+" "+n[2],fill:"none",stroke:"#ee4a50","stroke-width":6,"stroke-linecap":"round","stroke-dasharray":"0.5 12.5"});
    
    
  });
  function label(n){
    const t=make(g,"text",{transform:"translate("+n[1]+","+(n[2]+15)+") scale(1,1.2)","text-anchor":"middle","font-size":35.5,fill:"#1c1c1c"});
    t.textContent=n[0];
    
    
  }
  outerNodes.concat(blueNodes).forEach(n=>{
    const el=make(g,"ellipse",{cx:n[1],cy:n[2],rx:60,ry:35.5,fill:n[3],stroke:"#1f7d7d","stroke-width":4.5});
    
    
    label(n);
  });
  hubNodes.concat([centerNode]).forEach(n=>{
    const el=make(g,"rect",{x:n[1]-60,y:n[2]-35.5,width:120,height:71,rx:8,ry:8,fill:n[3],stroke:"#1f7d7d","stroke-width":4.5});
    
    
    label(n);
  });
})();
]]>
</script>
</svg>
</body></html>
